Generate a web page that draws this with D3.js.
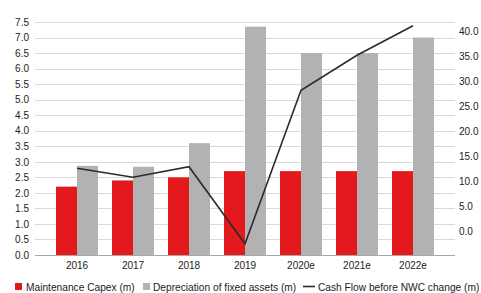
<!DOCTYPE html>
<html>
<head>
<meta charset="utf-8">
<script src="https://cdn.jsdelivr.net/npm/d3@7"></script>
<style>
  body { margin: 0; background: #fff; }
  svg text { font-family: "Liberation Sans", Arial, sans-serif; font-size: 10px; fill: #222; }
  svg .legend text { font-size: 10.2px; }
</style>
</head>
<body>
<div id="chart"></div>
<script>
const years = ['2016', '2017', '2018', '2019', '2020e', '2021e', '2022e'];
const capex = [2.2, 2.4, 2.5, 2.7, 2.7, 2.7, 2.7];
const depreciation = [2.87, 2.84, 3.6, 7.35, 6.5, 6.5, 7.0];
const cashFlow = [12.7, 10.9, 13.0, -2.4, 28.3, 35.3, 41.2];
const leftTicks = [0, 0.5, 1, 1.5, 2, 2.5, 3, 3.5, 4, 4.5, 5, 5.5, 6, 6.5, 7, 7.5];
const rightTicks = [0, 5, 10, 15, 20, 25, 30, 35, 40];
const seriesNames = ['Maintenance Capex (m)', 'Depreciation of fixed assets (m)', 'Cash Flow before NWC change (m)'];

const w = 481;
const h = 293;
const margin = { top: 22, right: 26, bottom: 38, left: 35 };

const svg = d3.select('#chart').append('svg')
  .attr('width', w)
  .attr('height', h);

const x = d3.scaleBand()
  .domain(years)
  .range([margin.left, w - margin.right])
  .paddingInner(0)
  .paddingOuter(0.25);

const x1 = d3.scaleBand()
  .domain(['capex', 'dep'])
  .range([0, x.bandwidth()])
  .paddingInner(0)
  .paddingOuter(1 / 3);

const y = d3.scaleLinear()
  .domain([0, 7.5])
  .range([h - margin.bottom, margin.top]);

// right axis is not aligned with the gridlines in the original
const y2 = d3.scaleLinear()
  .domain([-4.66, 41.94])
  .range([h - margin.bottom, margin.top]);

// gridlines
svg.append('g')
  .selectAll('line')
  .data(leftTicks.slice(1))
  .enter()
  .append('line')
  .attr('x1', margin.left)
  .attr('x2', w - margin.right)
  .attr('y1', d => Math.round(y(d)) + 0.5)
  .attr('y2', d => Math.round(y(d)) + 0.5)
  .attr('stroke', '#d9d9d9')
  .attr('stroke-width', 1);

// left axis labels
const leftAxis = d3.axisLeft(y).tickValues(leftTicks).tickFormat(d3.format('.1f')).tickSize(0).tickPadding(6);
svg.append('g')
  .attr('transform', `translate(${margin.left},0)`)
  .call(leftAxis)
  .call(g => g.select('.domain').remove());

// right axis labels
const rightAxis = d3.axisRight(y2).tickValues(rightTicks).tickFormat(d3.format('.1f')).tickSize(0).tickPadding(4);
svg.append('g')
  .attr('transform', `translate(${w - margin.right},0)`)
  .call(rightAxis)
  .call(g => g.select('.domain').remove());

// bars
const groups = svg.append('g')
  .selectAll('g')
  .data(years)
  .enter()
  .append('g')
  .attr('transform', d => `translate(${x(d)},0)`);

groups.append('rect')
  .attr('x', x1('capex'))
  .attr('width', x1.bandwidth())
  .attr('y', (d, i) => y(capex[i]))
  .attr('height', (d, i) => y(0) - y(capex[i]))
  .attr('fill', '#e3191e');

groups.append('rect')
  .attr('x', x1('dep'))
  .attr('width', x1.bandwidth())
  .attr('y', (d, i) => y(depreciation[i]))
  .attr('height', (d, i) => y(0) - y(depreciation[i]))
  .attr('fill', '#b2b2b2');

// x axis
const bottomAxis = d3.axisBottom(x).tickSize(0).tickPadding(7);
svg.append('g')
  .attr('transform', `translate(0,${y(0)})`)
  .call(bottomAxis)
  .call(g => g.select('.domain').remove());

svg.append('line')
  .attr('x1', margin.left)
  .attr('x2', w - margin.right)
  .attr('y1', y(0) + 0.5)
  .attr('y2', y(0) + 0.5)
  .attr('stroke', '#a6a6a6');

// cash flow line
const line = d3.line()
  .x((d, i) => x(years[i]) + x.bandwidth() / 2)
  .y(d => y2(d));

svg.append('path')
  .datum(cashFlow)
  .attr('d', line)
  .attr('fill', 'none')
  .attr('stroke', '#2b2b2b')
  .attr('stroke-width', 1.6);

// legend
const legend = svg.append('g').attr('class', 'legend').attr('transform', 'translate(0,287)');

legend.append('rect').attr('x', 15).attr('y', -4).attr('width', 7).attr('height', 7).attr('fill', '#e3191e');
legend.append('text').attr('x', 26).attr('y', 4).text(seriesNames[0]);

legend.append('rect').attr('x', 143).attr('y', -4).attr('width', 7).attr('height', 7).attr('fill', '#b2b2b2');
legend.append('text').attr('x', 153).attr('y', 4).text(seriesNames[1]);

legend.append('line').attr('x1', 303).attr('x2', 315).attr('y1', -0.5).attr('y2', -0.5)
  .attr('stroke', '#2b2b2b').attr('stroke-width', 1.6);
legend.append('text').attr('x', 318).attr('y', 4).text(seriesNames[2]);
</script>
</body>
</html>
